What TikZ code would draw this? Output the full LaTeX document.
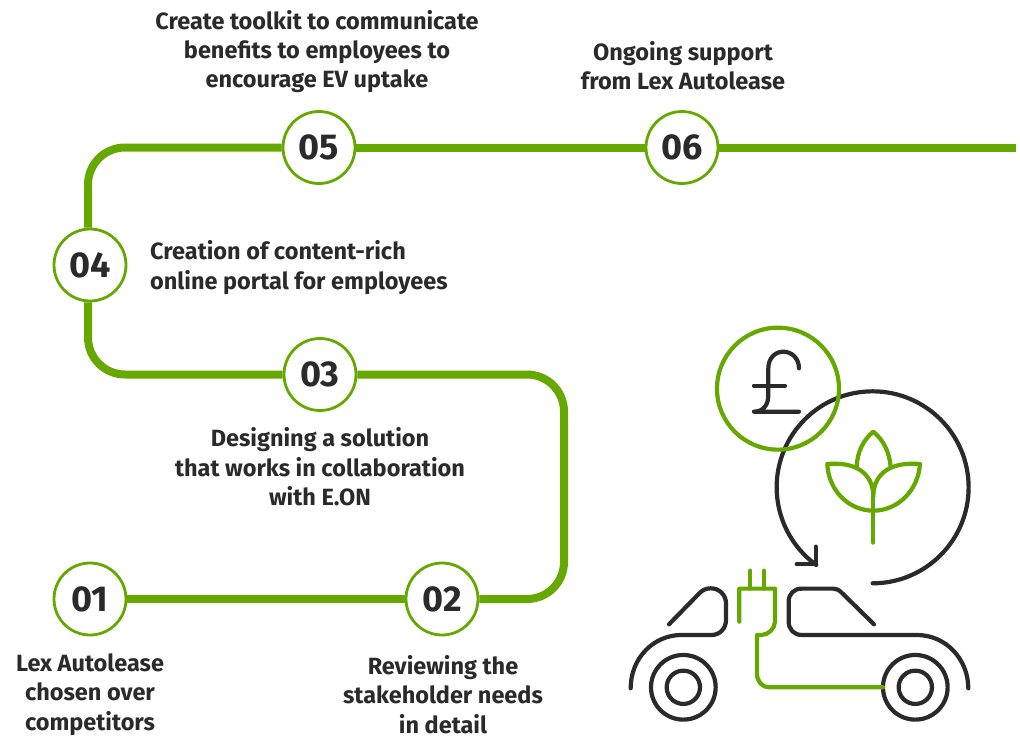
\documentclass[tikz,border=0pt]{standalone}
\usepackage{fontspec}
\setmainfont{Fira Sans}
\definecolor{lexgreen}{HTML}{64A800}
\definecolor{lexdark}{HTML}{2A2A2A}
\tikzset{
  stepnum/.style={circle,draw=lexgreen,line width=2.8pt,fill=white,minimum size=72pt,inner sep=0pt,text=lexdark,font=\fontsize{36}{36}\selectfont\bfseries},
  label/.style={text=lexdark,align=center,inner sep=0pt,font=\fontsize{23.5}{29.4}\selectfont\bfseries},
  trunk/.style={draw=lexgreen,line width=8pt},
  icondark/.style={draw=lexdark,line width=4.2pt,line cap=round,line join=round},
  icongreen/.style={draw=lexgreen,line width=4.2pt,line cap=round,line join=round}
}
\begin{document}
\begin{tikzpicture}[yscale=-1,x=1pt,y=1pt]
\useasboundingbox (0,0) rectangle (1020,736);
\node[stepnum] (n01) at (90,599) {01};
\node[stepnum] (n02) at (442,599) {02};
\node[stepnum] (n03) at (320,374.5) {03};
\node[stepnum] (n04) at (90,265) {04};
\node[stepnum] (n05) at (319,147.5) {05};
\node[stepnum] (n06) at (682,147.5) {06};
\coordinate (c2a) at (564,599);
\coordinate (c2b) at (564,374.5);
\coordinate (c3a) at (88,374.5);
\coordinate (c4a) at (88,147.5);
\coordinate (endline) at (1016,147.5);
\draw[trunk] (n01) -- (n02);
\draw[trunk,rounded corners=37pt] (n02) -- (c2a) -- (c2b) -- (n03);
\draw[trunk,rounded corners=37pt] (n03) -- (c3a) -- (n04.267);
\draw[trunk,rounded corners=37pt] (n04.93) -- (c4a) -- (n05);
\draw[trunk] (n05) -- (n06);
\draw[trunk] (n06) -- (endline);
\node[label] (t01) at (90,694.3) {Lex Autolease\\chosen over\\competitors};
\node[label] (t02) at (443,694.3) {Reviewing the\\stakeholder needs\\in detail};
\node[label] (t03) at (320,467) {Designing a solution\\that works in collaboration\\with E.ON};
\node[label,align=left,anchor=west] (t04) at (150,267.5) {Creation of content-rich\\online portal for employees};
\node[label] (t05) at (317,51.5) {Create toolkit to communicate\\benefits to employees to\\encourage EV uptake};
\node[label] (t06) at (683,65.5) {Ongoing support\\from Lex Autolease};
\begin{scope}[shift={(620,320)},x=0.3333pt,y=0.3333pt]
  % arrow circle
  \draw[icondark] (758,790) arc (90:-234:288*0.3333pt);
  \draw[icondark] (587,680) -- (587,733) -- (530,733);
  % money circle
  \draw[icongreen] (474,206) circle (183*0.3333pt);
  % pound
  \draw[icondark] (537,145) .. controls (537,115) and (515,95) .. (490,95) .. controls (465,95) and (445,115) .. (445,145) -- (445,225) .. controls (445,255) and (430,275) .. (402,275) -- (537,275);
  \draw[icondark] (402,197) -- (495,197);
  % plant
  \draw[icongreen] (760,668) -- (760,510);
  \draw[icongreen] (710,440) .. controls (712,395) and (730,360) .. (760,335) .. controls (790,360) and (808,395) .. (812,440);
  \draw[icongreen] (760,530) .. controls (760,455) and (700,425) .. (622,432) .. controls (625,510) and (685,572) .. (760,572) .. controls (835,572) and (895,510) .. (900,432) .. controls (820,425) and (760,455) .. (760,530);
  % car
  \draw[icondark] (32,1105) .. controls (32,1015) and (100,945) .. (185,945) -- (275,945) .. controls (300,945) and (318,925) .. (318,900) -- (318,850) .. controls (318,825) and (298,805) .. (272,805) .. controls (258,805) and (248,810) .. (238,820) -- (147,913);
  \draw[icondark] (762,913) -- (665,818) .. controls (657,810) and (650,806) .. (640,806) -- (545,806) .. controls (522,806) and (506,822) .. (506,845) -- (506,905) .. controls (506,928) and (522,945) .. (545,945) -- (890,945) .. controls (980,945) and (1045,1020) .. (1045,1105);
  \draw[icondark] (190,1102) circle (97*0.3333pt);
  \draw[icondark] (190,1102) circle (50*0.3333pt);
  \draw[icondark] (886,1102) circle (97*0.3333pt);
  \draw[icondark] (886,1102) circle (50*0.3333pt);
  % plug
  \draw[icongreen] (358,905) -- (358,806) -- (465,806) -- (465,905) .. controls (465,925) and (445,945) .. (425,945) -- (411,945) -- (411,1060) .. controls (411,1085) and (425,1102) .. (450,1102) -- (789,1102);
  \draw[icongreen] (391,752) -- (391,806);
  \draw[icongreen] (433,752) -- (433,806);
\end{scope}
\end{tikzpicture}
\end{document}
